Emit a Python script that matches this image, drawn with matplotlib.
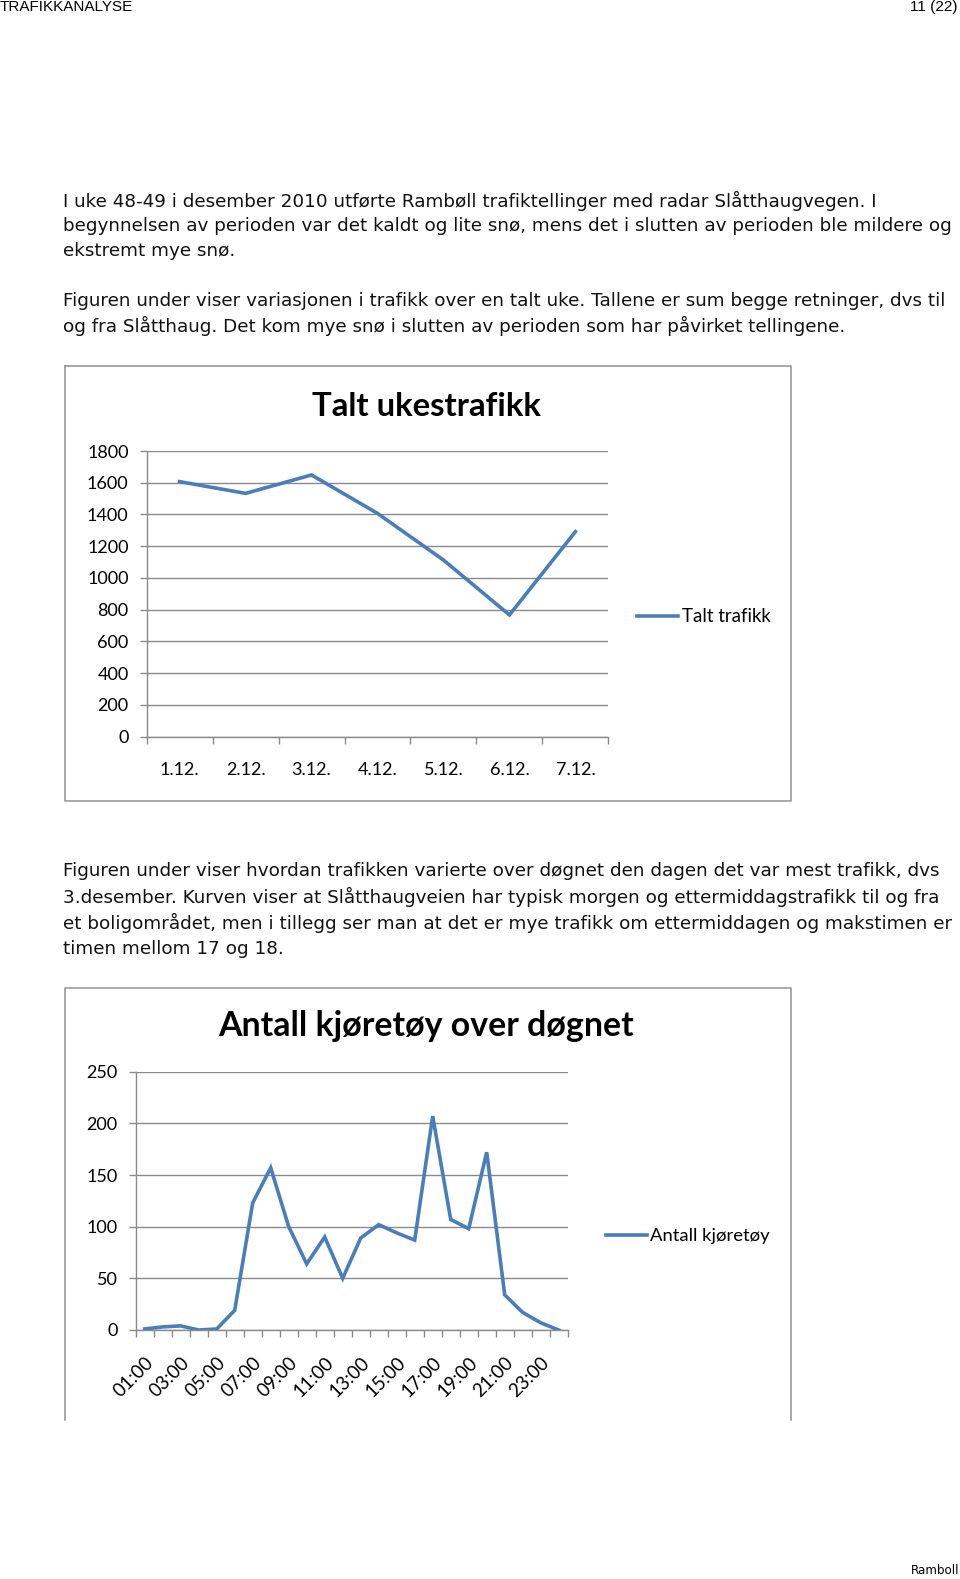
import matplotlib.pyplot as plt
from matplotlib.lines import Line2D

# data read from the page
dager = ['1.12.', '2.12.', '3.12.', '4.12.', '5.12.', '6.12.', '7.12.']
talt = [1607, 1533, 1649, 1407, 1113, 767, 1292]

timer = ['%02d:00' % h for h in range(1, 25)]
kjoretoy = [1, 3, 4, 0, 1, 19, 123, 157, 100, 64, 90, 50,
            89, 102, 94, 87, 207, 107, 98, 172, 34, 17, 7, 0]

W, H = 960, 1579
BLUE = '#4A7EBB'
GRID = '#8a8a8a'
CHART_FONT = ['Lato', 'DejaVu Sans']
PAGE_FONT = ['DejaVu Sans']

fig = plt.figure(figsize=(W / 100, H / 100), dpi=100)


def box(x0, y0, x1, y1):
    return [x0 / W, 1 - y1 / H, (x1 - x0) / W, (y1 - y0) / H]


def ftext(x, y, s, **kw):
    fig.text(x / W, 1 - y / H, s, **kw)


def fline(xs, ys, **kw):
    fig.add_artist(Line2D([x / W for x in xs], [1 - y / H for y in ys], **kw))


# page header / footer
ftext(0, 7, 'TRAFIKKANALYSE', fontsize=11, family=['Liberation Sans', 'DejaVu Sans'],
      va='center', ha='left')
ftext(957, 7, '11 (22)', fontsize=11, family=['Liberation Sans', 'DejaVu Sans'],
      va='center', ha='right')
ftext(959, 1571, 'Ramboll', fontsize=8.6, family=PAGE_FONT, va='center', ha='right')

avsnitt = [
    (201, 'I uke 48-49 i desember 2010 utførte Rambøll trafiktellinger med radar Slåtthaugvegen. I'),
    (226, 'begynnelsen av perioden var det kaldt og lite snø, mens det i slutten av perioden ble mildere og'),
    (251, 'ekstremt mye snø.'),
    (301, 'Figuren under viser variasjonen i trafikk over en talt uke. Tallene er sum begge retninger, dvs til'),
    (326, 'og fra Slåtthaug. Det kom mye snø i slutten av perioden som har påvirket tellingene.'),
    (871, 'Figuren under viser hvordan trafikken varierte over døgnet den dagen det var mest trafikk, dvs'),
    (897, '3.desember. Kurven viser at Slåtthaugveien har typisk morgen og ettermiddagstrafikk til og fra'),
    (923, 'et boligområdet, men i tillegg ser man at det er mye trafikk om ettermiddagen og makstimen er'),
    (949, 'timen mellom 17 og 18.'),
]
for y, s in avsnitt:
    ftext(63, y, s, fontsize=13.2, family=PAGE_FONT, va='center', ha='left', color='#111111')

# chart frames
fline([65, 791, 791, 65, 65], [366, 366, 801, 801, 366], color='#9a9a9a', lw=1.2)
fline([65, 65, 791, 791], [1420, 988, 988, 1420], color='#9a9a9a', lw=1.2)


def style(ax):
    for s in ['top', 'right']:
        ax.spines[s].set_visible(False)
    for s in ['left', 'bottom']:
        ax.spines[s].set_color(GRID)
        ax.spines[s].set_linewidth(1.0)
    ax.grid(axis='y', color=GRID, lw=1.0)
    ax.set_axisbelow(True)
    ax.tick_params(axis='both', which='major', color=GRID, length=5, width=1.0)
    ax.tick_params(axis='x', which='minor', length=0)
    ax.tick_params(axis='y', labelsize=13, pad=8)
    for t in ax.get_yticklabels():
        t.set_family(CHART_FONT)


# chart 1: Talt ukestrafikk
ax1 = fig.add_axes(box(146.6, 451, 608.4, 736.7))
x1 = [i + 0.5 for i in range(len(dager))]
ax1.plot(x1, talt, color=BLUE, lw=2.6, label='Talt trafikk', solid_joinstyle='miter')
ax1.set_xlim(0, len(dager))
ax1.set_ylim(0, 1800)
ax1.set_yticks(range(0, 1801, 200))
ax1.set_xticks(range(len(dager) + 1))
ax1.set_xticklabels([])
ax1.set_xticks(x1, minor=True)
ax1.set_xticklabels(dager, minor=True, fontsize=13, family=CHART_FONT)
ax1.tick_params(axis='x', which='minor', pad=18.5)
style(ax1)
ftext(426, 406, 'Talt ukestrafikk', fontsize=23.7, fontweight='bold', family=CHART_FONT,
      ha='center', va='center')
ax1.legend(loc='center left', bbox_to_anchor=(637 / W, 1 - 617 / H),
           bbox_transform=fig.transFigure, frameon=False,
           prop={'family': CHART_FONT, 'size': 13.4}, handlelength=2.2,
           handletextpad=0.2, borderpad=0, borderaxespad=0)

# chart 2: Antall kjøretøy over døgnet
ax2 = fig.add_axes(box(135.7, 1071.7, 567.7, 1330))
x2 = [i + 0.5 for i in range(len(timer))]
ax2.plot(x2, kjoretoy, color=BLUE, lw=2.6, label='Antall kjøretøy', solid_joinstyle='miter')
ax2.set_xlim(0, len(timer))
ax2.set_ylim(0, 250)
ax2.set_yticks(range(0, 251, 50))
ax2.set_xticks(range(len(timer) + 1))
ax2.set_xticklabels([])
ax2.set_xticks(x2[::2], minor=True)
ax2.set_xticklabels(timer[::2], minor=True, fontsize=13.5, family=CHART_FONT,
                    rotation=45, ha='right', va='top', rotation_mode='anchor')
ax2.tick_params(axis='x', which='minor', pad=17)
style(ax2)
ftext(426, 1026, 'Antall kjøretøy over døgnet', fontsize=24.4, fontweight='bold',
      family=CHART_FONT, ha='center', va='center')
ax2.legend(loc='center left', bbox_to_anchor=(606 / W, 1 - 1236 / H),
           bbox_transform=fig.transFigure, frameon=False,
           prop={'family': CHART_FONT, 'size': 13.3}, handlelength=2.2,
           handletextpad=0.2, borderpad=0, borderaxespad=0)

fig.savefig('out.png', dpi=100, facecolor='white')
